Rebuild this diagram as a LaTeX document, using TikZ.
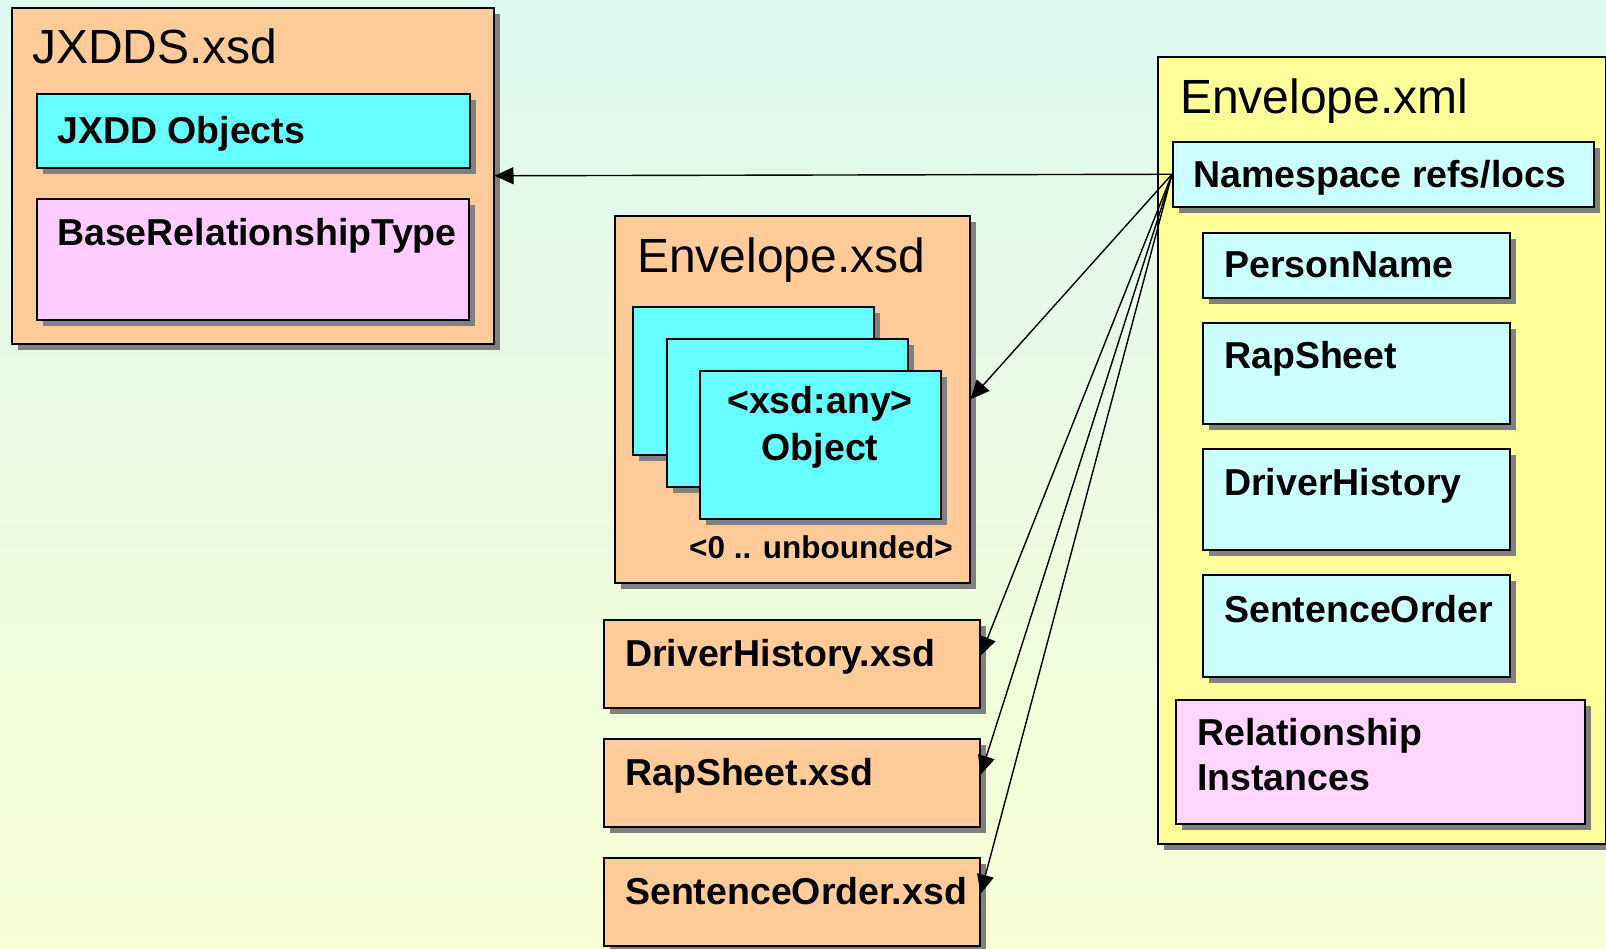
\documentclass[tikz,border=0pt]{standalone}
\usepackage{fontspec}
\setmainfont{Liberation Sans}
\usetikzlibrary{arrows.meta}
\usetikzlibrary{shadows}
\newcommand*{\shd }{6pt}
\newcommand*{\fttl}{\fontsize{48}{54}\selectfont}
\newcommand*{\flbl}{\fontsize{37.5}{45}\selectfont\bfseries}
\newcommand*{\fsml}{\fontsize{31.5}{36}\selectfont\bfseries}
\definecolor{bgtop}{RGB}{222,249,240}
\definecolor{bgbot}{RGB}{247,253,212}
\definecolor{xsdor}{RGB}{255,204,153}
\definecolor{objcy}{RGB}{102,255,255}
\definecolor{relpk}{RGB}{255,204,255}
\definecolor{xmlye}{RGB}{255,255,153}
\definecolor{itmcy}{RGB}{204,255,255}
\definecolor{inspk}{RGB}{255,214,255}

\begin{document}
\begin{tikzpicture}[x=1pt, y=-1pt,
    box/.style={draw=black, line width=1.5pt, anchor=north west, inner sep=0pt,
        drop shadow={shadow xshift=\shd, shadow yshift=-\shd, fill=black!50, opacity=1}},
    txt/.style={anchor=base west, inner sep=0pt},
    ref/.style={line width=1.4pt, -{Triangle[length=19pt,width=17pt]}}]
    \useasboundingbox (0,0) rectangle (1606,948);
    \shade [top color=bgtop, bottom color=bgbot] (0,0) rectangle (1606,948);
    % JXDDS.xsd
    \node [box, fill=xsdor, minimum width=482pt, minimum height=336pt] (jx) at (11,7) {};
    \node [box, fill=objcy, minimum width=433pt, minimum height=74pt] (jxobj) at (36,93) {};
    \node [box, fill=relpk, minimum width=432pt, minimum height=121pt] (jxrel) at (36,198) {};
    \node [txt, font=\fttl] (jxt) at (32,63) {JXDDS.xsd};
    \node [txt, font=\flbl] (jxobjt) at (57,143) {JXDD Objects};
    \node [txt, font=\flbl] (jxrelt) at (57,245) {BaseRelationshipType};
    % Envelope.xsd
    \node [box, fill=xsdor, minimum width=355pt, minimum height=367pt] (exsd) at (614,215) {};
    \node [box, fill=objcy, minimum width=241pt, minimum height=148pt] (card1) at (632,306) {};
    \node [box, fill=objcy, minimum width=241pt, minimum height=148pt] (card2) at (666,338) {};
    \node [box, fill=objcy, minimum width=241pt, minimum height=148pt] (card3) at (699,370) {};
    \node [txt, font=\fttl] (exsdt) at (637,272) {Envelope.xsd};
    \node [anchor=base, inner sep=0pt, font=\flbl] (anyt) at (820,413) {\textless xsd:any\textgreater};
    \node [anchor=base, inner sep=0pt, font=\flbl] (objt) at (820,460) {Object};
    \node [anchor=base east, inner sep=0pt, font=\fsml] (cnt) at (953,558) {\textless 0 .. unbounded\textgreater};
    % schema files
    \node [box, fill=xsdor, minimum width=376pt, minimum height=88pt] (dhx) at (603,619) {};
    \node [box, fill=xsdor, minimum width=376pt, minimum height=88pt] (rsx) at (603,738) {};
    \node [box, fill=xsdor, minimum width=376pt, minimum height=88pt] (sox) at (603,857) {};
    \node [txt, font=\flbl] (dhxt) at (625,666) {DriverHistory.xsd};
    \node [txt, font=\flbl] (rsxt) at (625,785) {RapSheet.xsd};
    \node [txt, font=\flbl] (soxt) at (625,904) {SentenceOrder.xsd};
    % Envelope.xml
    \node [box, fill=xmlye, minimum width=448pt, minimum height=787pt] (exml) at (1157,56) {};
    \node [box, fill=itmcy, minimum width=421pt, minimum height=65pt] (ns) at (1172,141) {};
    \node [box, fill=itmcy, minimum width=307pt, minimum height=65pt] (pn) at (1202,232) {};
    \node [box, fill=itmcy, minimum width=307pt, minimum height=101pt] (rs) at (1202,322) {};
    \node [box, fill=itmcy, minimum width=307pt, minimum height=101pt] (dh) at (1202,448) {};
    \node [box, fill=itmcy, minimum width=307pt, minimum height=102pt] (so) at (1202,574) {};
    \node [box, fill=inspk, minimum width=409pt, minimum height=124pt] (ri) at (1175,699) {};
    \node [txt, font=\fttl] (exmlt) at (1180,113) {Envelope.xml};
    \node [txt, font=\flbl] (nst) at (1193,187) {Namespace refs/locs};
    \node [txt, font=\flbl] (pnt) at (1224,277) {PersonName};
    \node [txt, font=\flbl] (rst) at (1224,368) {RapSheet};
    \node [txt, font=\flbl] (dht) at (1224,495) {DriverHistory};
    \node [txt, font=\flbl] (sot) at (1224,622) {SentenceOrder};
    \node [anchor=north west, inner sep=0pt, align=left, font=\flbl] (rit) at (1197,718) {Relationship\\Instances};
    % references
    \draw [ref] (ns.west) -- (jx.east);
    \draw [ref] (ns.west) -- (exsd.east);
    \draw [ref] (ns.west) -- ([yshift=8pt]dhx.east);
    \draw [ref] (ns.west) -- ([yshift=8pt]rsx.east);
    \draw [ref] (ns.west) -- ([yshift=8pt]sox.east);
\end{tikzpicture}
\end{document}
